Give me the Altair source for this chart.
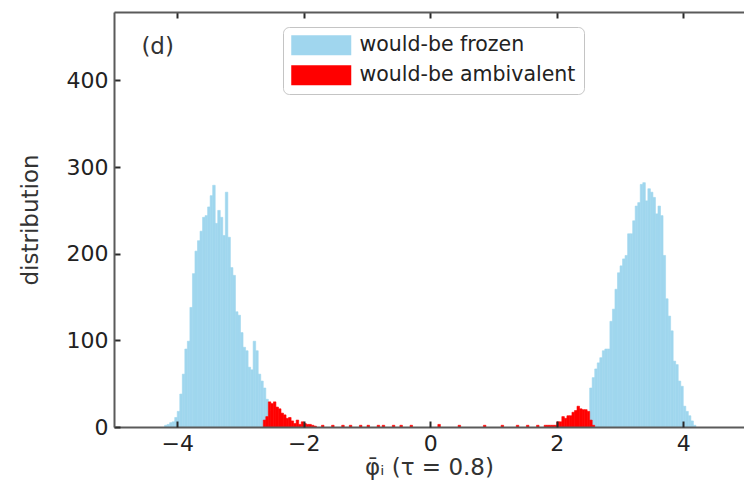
import altair as alt
import pandas as pd

# ---- data (bin counts) ----
BIN_W = 0.04

frozen_left_start = -4.2
frozen_left = [2, 3, 5, 6, 11, 18, 38, 61, 90, 99, 138, 177, 203, 215, 226, 242,
               244, 254, 267, 279, 235, 250, 242, 221, 271, 219, 184, 175, 133,
               129, 109, 92, 88, 69, 66, 99, 88, 61, 53, 45, 32, 18]

frozen_right_start = 2.52
frozen_right = [45, 57, 67, 74, 80, 88, 90, 90, 122, 136, 159, 178, 186, 194, 198,
                223, 223, 238, 255, 259, 280, 282, 261, 275, 271, 265, 246, 255,
                244, 198, 148, 128, 111, 76, 72, 53, 47, 24, 18, 13, 7, 2]

ambiv_left_start = -2.64
ambiv_left = [8, 12, 29, 27, 29, 23, 21, 16, 14, 10, 11, 7, 4, 8, 3, 6, 4, 3, 3, 2, 1]

ambiv_sparse_x = [-1.72, -1.56, -1.40, -1.28, -1.12, -1.00, -0.84, -0.76, -0.60,
                  -0.48, -0.32, 0.12, 0.44, 0.84, 1.12, 1.36, 1.52, 1.68, 1.80,
                  1.84, 1.88, 1.92, 1.96]
ambiv_sparse = [2, 2, 2, 2, 2, 2, 2, 2, 2, 2, 2, 3, 2, 2, 2, 2, 2, 2, 2, 2, 2, 2, 2]

ambiv_right_start = 2.0
ambiv_right = [6, 6, 12, 10, 13, 13, 17, 19, 24, 21, 20, 20, 18, 8, 2]

x_ticks = [-4, -2, 0, 2, 4]
y_ticks = [0, 100, 200, 300, 400]

SERIES = ["would-be frozen", "would-be ambivalent"]
COLORS = ["#a0d6ee", "#ff0000"]

rows = []
def add_run(start, counts, series):
    for i, c in enumerate(counts):
        x0 = round(start + i * BIN_W, 4)
        rows.append({"x0": x0, "x1": round(x0 + BIN_W, 4), "count": c, "series": series})

add_run(frozen_left_start, frozen_left, SERIES[0])
add_run(frozen_right_start, frozen_right, SERIES[0])
add_run(ambiv_left_start, ambiv_left, SERIES[1])
for x, c in zip(ambiv_sparse_x, ambiv_sparse):
    rows.append({"x0": x, "x1": round(x + BIN_W, 4), "count": c, "series": SERIES[1]})
add_run(ambiv_right_start, ambiv_right, SERIES[1])
df = pd.DataFrame(rows)
df["zero"] = 0

W, H = 630, 415
FONT = "DejaVu Sans"
AX_COL = "#5a5a5a"
TICK_COL = "#2a2a2a"
TXT_COL = "#222222"

xscale = alt.Scale(domain=[-5, 4.96], nice=False, zero=False)
yscale = alt.Scale(domain=[0, 479], nice=False)
cscale = alt.Scale(domain=SERIES, range=COLORS)

yaxis = alt.Axis(orient="left", values=y_ticks, title="distribution",
                 titleFontSize=23, titleFont=FONT, titleFontWeight="normal",
                 titleColor="#333333", titlePadding=24,
                 labelFontSize=22, labelFont=FONT, labelColor=TXT_COL,
                 tickSize=alt.ExprRef("-6"), tickWidth=2, tickColor=TICK_COL,
                 labelPadding=12, zindex=1,
                 domainColor=AX_COL, domainWidth=2, grid=False)

bars = alt.Chart(df).mark_rect(strokeWidth=0.6).encode(
    x=alt.X("x0:Q", scale=xscale,
            axis=alt.Axis(orient="bottom", values=x_ticks,
                          title="φ̄ᵢ (τ = 0.8)", titleFontSize=23, titleFont=FONT,
                          titleFontWeight="normal", titleColor="#333333", titlePadding=2,
                          labelFontSize=22, labelFont=FONT, labelColor=TXT_COL,
                          ticks=False, labelPadding=6, zindex=1,
                          domainColor=AX_COL, domainWidth=2, grid=False)),
    x2="x1:Q",
    y=alt.Y("count:Q", scale=yscale, axis=yaxis),
    y2="zero:Q",
    color=alt.Color("series:N", sort=SERIES, scale=cscale,
                    legend=alt.Legend(orient="none", legendX=169, legendY=15,
                                      title=None,
                                      symbolType="M-3,-1L3,-1L3,1L-3,1Z",
                                      symbolSize=400, symbolStrokeWidth=0,
                                      symbolOpacity=1, symbolOffset=20,
                                      labelFontSize=20.5, labelFont=FONT,
                                      labelColor=TXT_COL, labelOffset=28,
                                      labelLimit=400,
                                      rowPadding=9, padding=8,
                                      strokeColor="#c4c4c4",
                                      cornerRadius=6, fillColor="white")),
    stroke=alt.Stroke("series:N", sort=SERIES, scale=cscale, legend=None),
    order=alt.Order("series_order:Q"),
).transform_calculate(series_order="datum.series == 'would-be frozen' ? 0 : 1")

label_df = pd.DataFrame({"x": [-4.31], "y": [439], "t": ["(d)"]})

# "(d)" panel label; also carries the top spine with inward ticks
label = alt.Chart(label_df).mark_text(fontSize=23, font=FONT, color="#333333").encode(
    x=alt.X("x:Q", scale=xscale,
            axis=alt.Axis(orient="top", values=x_ticks, labels=False,
                          tickSize=alt.ExprRef("-6"), tickWidth=2, tickColor=TICK_COL,
                          title=None, domainColor=AX_COL, domainWidth=2, grid=False,
                          zindex=1)),
    y=alt.Y("y:Q", scale=yscale, axis=yaxis),
    text="t:N",
)

# inward ticks on the bottom spine (a top-oriented axis moved down onto it)
ticks_bottom = alt.Chart(label_df).mark_point(opacity=0).encode(
    x=alt.X("x:Q", scale=xscale,
            axis=alt.Axis(orient="top", offset=-H, values=x_ticks, labels=False,
                          title=None, domain=False, grid=False, tickSize=6,
                          tickWidth=2, tickColor=TICK_COL, zindex=1)),
    y=alt.Y("y:Q", scale=yscale, axis=yaxis),
)

chart = alt.layer(bars, label, ticks_bottom).resolve_scale(
    x="shared", y="shared"
).resolve_axis(x="independent").properties(
    width=W, height=H,
    padding={"left": 114, "top": 12, "right": 0, "bottom": 70},
    autosize=alt.AutoSizeParams(type="none"),
).configure_view(stroke=None).configure_legend(strokeWidth=3).configure(background="white")

chart.save("out.html", embed_options={"renderer": "svg", "actions": False})
